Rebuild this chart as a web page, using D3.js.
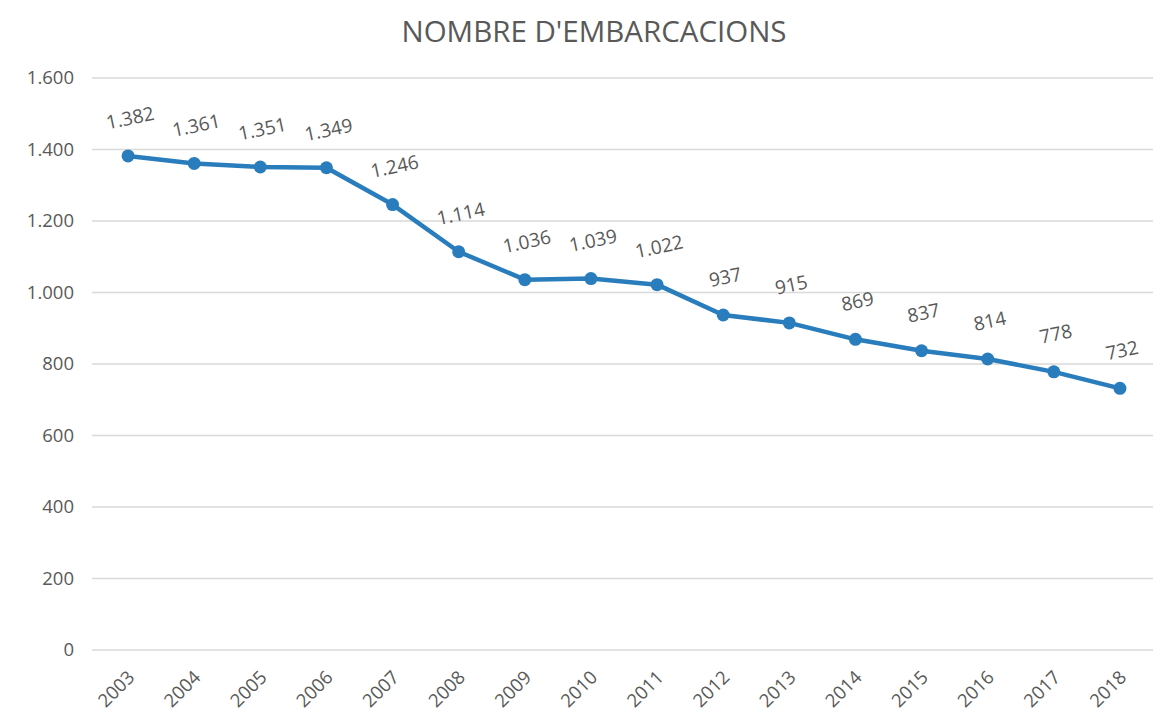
<!DOCTYPE html>
<html>
<head>
<meta charset="utf-8">
<script src="https://cdn.jsdelivr.net/npm/d3@7"></script>
<style>
  body { margin: 0; background: #fff; }
  text { font-family: "Open Sans", "Noto Sans", sans-serif; fill: #595959; }
</style>
</head>
<body>
<svg id="chart" width="1163" height="723"></svg>
<script>
var years = ["2003", "2004", "2005", "2006", "2007", "2008", "2009", "2010",
    "2011", "2012", "2013", "2014", "2015", "2016", "2017", "2018"];
var boats = [1382, 1361, 1351, 1349, 1246, 1114, 1036, 1039, 1022, 937, 915, 869, 837, 814, 778, 732];
var yTicks = [0, 200, 400, 600, 800, 1000, 1200, 1400, 1600];

var svg = d3.select("#chart");
var margin = { left: 95, right: 10, top: 78, bottom: 73 };
var width = 1163, height = 723;

var x = d3.scaleBand()
    .domain(years)
    .range([margin.left, width - margin.right])
    .padding(0);
var y = d3.scaleLinear()
    .domain([0, 1600])
    .range([height - margin.bottom, margin.top]);

// numero amb punt de milers
var fmt = function (d) {
    return d3.format(",")(d).replace(/,/g, ".");
};

svg.append("text")
    .attr("x", 594)
    .attr("y", 42)
    .attr("text-anchor", "middle")
    .style("font-size", "29.5px")
    .text("NOMBRE D'EMBARCACIONS");

// graella
svg.append("g")
    .selectAll("line")
    .data(yTicks)
    .enter()
    .append("line")
    .attr("x1", 92)
    .attr("x2", 1153)
    .attr("y1", function (d) { return y(d); })
    .attr("y2", function (d) { return y(d); })
    .attr("stroke", "#d9d9d9")
    .attr("stroke-width", 1.3);

svg.append("g")
    .selectAll("text")
    .data(yTicks)
    .enter()
    .append("text")
    .attr("x", 74)
    .attr("y", function (d) { return y(d); })
    .attr("dy", "0.35em")
    .attr("text-anchor", "end")
    .style("font-size", "18.5px")
    .text(fmt);

var cx = function (d, i) { return x(years[i]) + x.bandwidth() / 2; };

svg.append("g")
    .selectAll("text")
    .data(years)
    .enter()
    .append("text")
    .attr("transform", function (d) {
        return "translate(" + (x(d) + x.bandwidth() / 2 + 3) + "," + (y(0) + 24) + ") rotate(-45)";
    })
    .attr("text-anchor", "end")
    .attr("dy", "0.35em")
    .style("font-size", "18.5px")
    .text(function (d) { return d; });

var line = d3.line()
    .x(cx)
    .y(function (d) { return y(d); });

svg.append("path")
    .datum(boats)
    .attr("d", line)
    .attr("fill", "none")
    .attr("stroke", "#2a7dbd")
    .attr("stroke-width", 4.5)
    .attr("stroke-linejoin", "round");

svg.append("g")
    .selectAll("circle")
    .data(boats)
    .enter()
    .append("circle")
    .attr("cx", cx)
    .attr("cy", function (d) { return y(d); })
    .attr("r", 6.5)
    .attr("fill", "#2a7dbd");

svg.append("g")
    .selectAll("text")
    .data(boats)
    .enter()
    .append("text")
    .attr("transform", function (d, i) {
        return "translate(" + (cx(d, i) + 2) + "," + (y(d) - 38) + ") rotate(-12)";
    })
    .attr("text-anchor", "middle")
    .attr("dy", "0.35em")
    .style("font-size", "19px")
    .text(fmt);
</script>
</body>
</html>
